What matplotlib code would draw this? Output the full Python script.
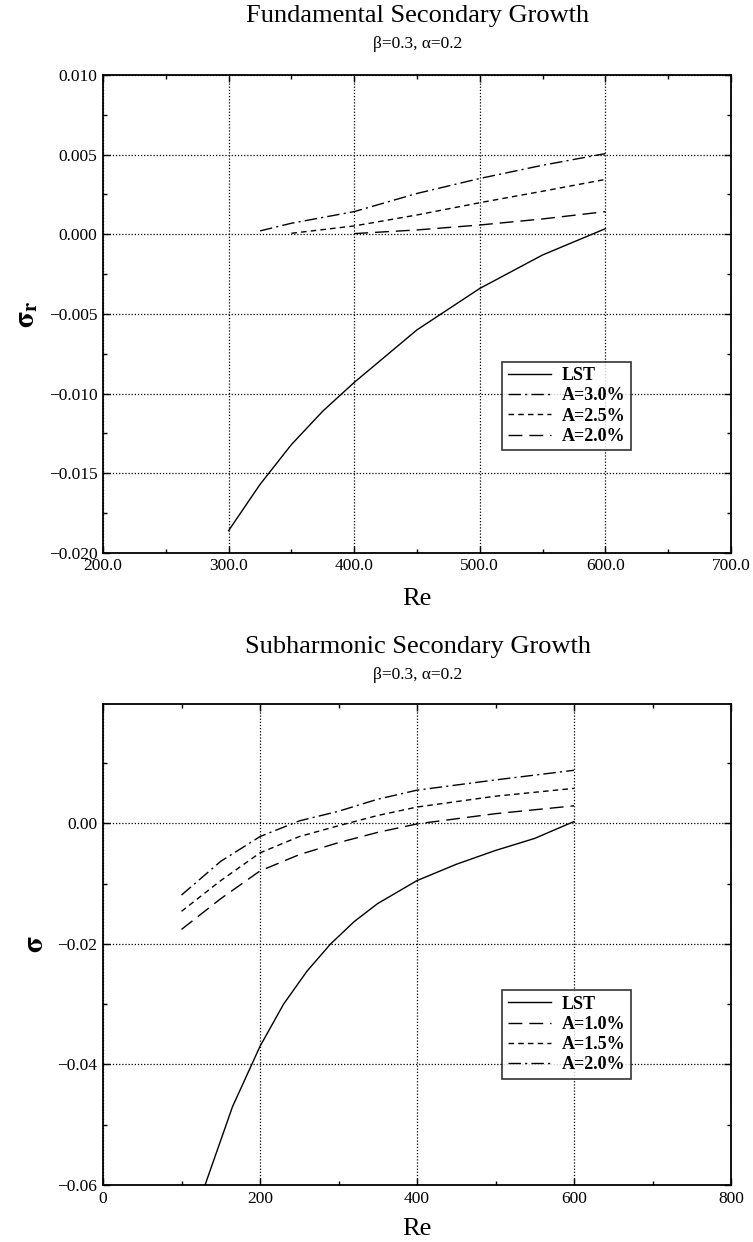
import numpy as np
import matplotlib
matplotlib.use('Agg')
import matplotlib.pyplot as plt
from matplotlib.ticker import MultipleLocator, FuncFormatter, FixedLocator

plt.rcParams['font.family'] = ['Liberation Serif', 'DejaVu Serif']
plt.rcParams['mathtext.fontset'] = 'stix'

# fundamental mode, beta=0.3, alpha=0.2
re_lst_f = [300, 325, 350, 375, 400, 450, 500, 550, 600]
sig_lst_f = [-0.0186, -0.0157, -0.0132, -0.0111, -0.0093, -0.0060, -0.0034, -0.0013, 0.00035]
re_a30 = [325, 350, 400, 450, 500, 550, 600]
sig_a30 = [0.00021, 0.00069, 0.00142, 0.00256, 0.0035, 0.00433, 0.00506]
re_a25 = [350, 400, 450, 500, 550, 600]
sig_a25 = [0.00006, 0.00052, 0.00121, 0.00198, 0.0027, 0.00344]
re_a20 = [400, 450, 500, 550, 600]
sig_a20 = [0.00004, 0.00027, 0.00058, 0.00096, 0.00142]

# subharmonic mode
re_lst_s = [130, 165, 200, 230, 260, 290, 320, 350, 400, 450, 500, 550, 600]
sig_lst_s = [-0.060, -0.047, -0.037, -0.030, -0.0245, -0.0200, -0.0163, -0.0133,
             -0.0095, -0.0068, -0.0045, -0.0025, 0.0003]
re_sub = [100, 150, 200, 250, 300, 350, 400, 500, 600]
sig_s10 = [-0.0176, -0.0125, -0.0079, -0.0052, -0.0032, -0.0015, -0.0001, 0.0016, 0.0029]
sig_s15 = [-0.0146, -0.0095, -0.0049, -0.0022, -0.0004, 0.0013, 0.0027, 0.0045, 0.0058]
sig_s20 = [-0.0119, -0.0063, -0.0022, 0.0004, 0.0020, 0.0040, 0.0055, 0.0072, 0.0088]

ls_dashdot = (0, (9, 3, 1.5, 3))
ls_short = (0, (4, 3))
ls_long = (0, (10, 5))


def fmt(spec):
    return FuncFormatter(lambda v, p: (spec % v).replace('-', '\u2212'))


def style_axes(ax):
    ax.tick_params(which='both', direction='in', top=True, right=True,
                   labelsize=12.5, pad=4)
    ax.tick_params(which='major', length=5, width=1)
    ax.tick_params(which='minor', length=3, width=1)
    for s in ax.spines.values():
        s.set_linewidth(1.3)
    ax.grid(True, which='major', color='black', linestyle=(0, (1, 1.5)), linewidth=0.9)


def add_legend(ax, y0):
    leg = ax.legend(loc='upper left', bbox_to_anchor=(0.636, y0), frameon=True, fancybox=False,
                    edgecolor='black', prop={'weight': 'bold', 'size': 13},
                    handlelength=2.4, handletextpad=0.6, borderpad=0.3,
                    labelspacing=0.18, borderaxespad=0)
    leg.get_frame().set_linewidth(1.2)


fig = plt.figure(figsize=(7.53, 12.42), dpi=100)

# ---- top panel ----
ax1 = fig.add_axes([0.1368, 0.5548, 0.834, 0.3849])
ax1.plot(re_lst_f, sig_lst_f, color='black', lw=1.0, label='LST')
ax1.plot(re_a30, sig_a30, color='black', lw=1.0, linestyle=ls_dashdot, label='A=3.0%')
ax1.plot(re_a25, sig_a25, color='black', lw=1.0, linestyle=ls_short, label='A=2.5%')
ax1.plot(re_a20, sig_a20, color='black', lw=1.0, linestyle=ls_long, label='A=2.0%')
ax1.set_xlim(200, 700)
ax1.set_ylim(-0.020, 0.010)
ax1.xaxis.set_major_locator(MultipleLocator(100))
ax1.xaxis.set_minor_locator(MultipleLocator(50))
ax1.yaxis.set_major_locator(MultipleLocator(0.005))
ax1.yaxis.set_minor_locator(MultipleLocator(0.0025))
ax1.xaxis.set_major_formatter(fmt('%.1f'))
ax1.yaxis.set_major_formatter(fmt('%.3f'))
style_axes(ax1)
ax1.set_xlabel('Re', fontsize=19, labelpad=10)
ax1.set_ylabel(r'$\mathbf{\sigma}_\mathbf{r}$', fontsize=21, labelpad=6)
add_legend(ax1, 0.40)

fig.text(0.555, 0.9871, 'Fundamental Secondary Growth', ha='center', va='center', fontsize=19)
fig.text(0.555, 0.9645, 'β=0.3, α=0.2', ha='center', va='center', fontsize=12.5)

# ---- bottom panel ----
ax2 = fig.add_axes([0.1368, 0.0459, 0.834, 0.3873])
ax2.plot(re_lst_s, sig_lst_s, color='black', lw=1.0, label='LST')
ax2.plot(re_sub, sig_s10, color='black', lw=1.0, linestyle=ls_long, label='A=1.0%')
ax2.plot(re_sub, sig_s15, color='black', lw=1.0, linestyle=ls_short, label='A=1.5%')
ax2.plot(re_sub, sig_s20, color='black', lw=1.0, linestyle=ls_dashdot, label='A=2.0%')
ax2.set_xlim(0, 800)
ax2.set_ylim(-0.06, 0.0198)
ax2.xaxis.set_major_locator(MultipleLocator(200))
ax2.xaxis.set_minor_locator(MultipleLocator(100))
ax2.yaxis.set_major_locator(FixedLocator([-0.06, -0.04, -0.02, 0.0]))
ax2.yaxis.set_minor_locator(FixedLocator([-0.05, -0.03, -0.01, 0.01]))
ax2.xaxis.set_major_formatter(fmt('%d'))
ax2.yaxis.set_major_formatter(fmt('%.2f'))
style_axes(ax2)
ax2.set_xlabel('Re', fontsize=19, labelpad=8)
ax2.set_ylabel(r'$\mathbf{\sigma}$', fontsize=21, labelpad=6)
add_legend(ax2, 0.405)

fig.text(0.555, 0.4791, 'Subharmonic Secondary Growth', ha='center', va='center', fontsize=19)
fig.text(0.555, 0.4565, 'β=0.3, α=0.2', ha='center', va='center', fontsize=12.5)

fig.savefig('out.png', dpi=100)
